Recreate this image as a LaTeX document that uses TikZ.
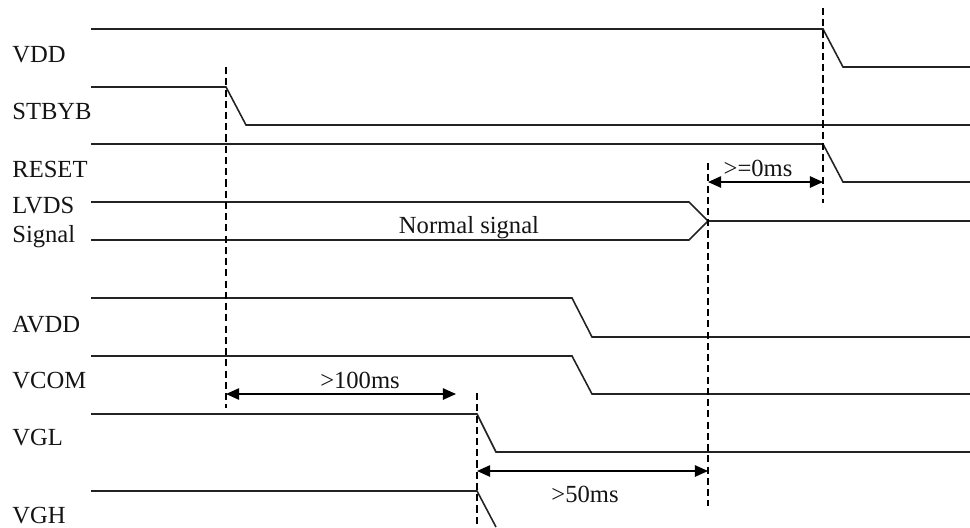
\documentclass[tikz,border=0pt]{standalone}
\usepackage{fontspec}
\setmainfont{Liberation Serif}
\usepackage{tikz}
\usetikzlibrary{arrows.meta}
\definecolor{SigLine}{RGB}{35,35,35}
\definecolor{TxtCol} {RGB}{20,20,20}
\tikzset{
  sig_line/.style={draw=SigLine,line width=0.9pt},
  tm_dash/.style={draw=black,line width=1.6pt,dash pattern=on 4pt off 2.4pt},
  arr/.style={<->,>={Triangle[length=7.5pt,width=6.5pt]},line width=0.9pt},
  nd_name/.style={anchor=base west,inner sep=0pt,text=TxtCol,font=\fontsize{14}{16}\selectfont},
  lbl/.style={anchor=base,inner sep=0pt,text=TxtCol,font=\fontsize{14}{16}\selectfont},
}

\begin{document}
\begin{tikzpicture}[x=0.2mm,y=-0.2mm]

\useasboundingbox (0,0) rectangle (970,527);
\def\Lx{91}\def\Rx{970}

% signal names
\node[nd_name] (nVDD)   at (12,62)  {VDD};
\node[nd_name] (nSTBYB) at (12,119) {STBYB};
\node[nd_name] (nRESET) at (12,177) {RESET};
\node[nd_name] (nLVDS)  at (12,213) {LVDS};
\node[nd_name] (nSig)   at (12,242) {Signal};
\node[nd_name] (nAVDD)  at (12,332) {AVDD};
\node[nd_name] (nVCOM)  at (12,388) {VCOM};
\node[nd_name] (nVGL)   at (12,445) {VGL};
\node[nd_name] (nVGH)   at (12,523) {VGH};

% waveforms
\draw[sig_line](\Lx,29)--(823,29)--(843,67)--(\Rx,67);
\draw[sig_line](\Lx,87)--(226,87)--(246,125)--(\Rx,125);
\draw[sig_line](\Lx,144)--(823,144)--(843,182)--(\Rx,182);
\draw[sig_line](\Lx,202)--(689,202)--(708,221);
\draw[sig_line](\Lx,240)--(689,240)--(708,221)--(\Rx,221);
\node[lbl] (nNorm) at (469,233) {Normal signal};
\draw[sig_line](\Lx,298)--(572,298)--(592,337)--(\Rx,337);
\draw[sig_line](\Lx,356)--(572,356)--(592,394)--(\Rx,394);
\draw[sig_line](\Lx,414)--(477,414)--(496,452)--(\Rx,452);
\draw[sig_line](\Lx,491)--(477,491)--(496,527);

% timing marks
\coordinate (tS1) at (226,67);  \coordinate (tS2) at (226,408);
\coordinate (tV1) at (823,8);   \coordinate (tV2) at (823,203);
\coordinate (tL1) at (708,163); \coordinate (tL2) at (708,506);
\coordinate (tG1) at (477,393); \coordinate (tG2) at (477,527);
\draw[tm_dash](tS1)--(tS2);
\draw[tm_dash](tV1)--(tV2);
\draw[tm_dash](tL1)--(tL2);
\draw[tm_dash](tG1)--(tG2);

% intervals
\coordinate (d0a)   at (708,182); \coordinate (d0b)   at (823,182);
\coordinate (d100a) at (226,394); \coordinate (d100b) at (456,394);
\coordinate (d50a)  at (477,471); \coordinate (d50b)  at (708,471);
\draw[arr](d0a)--(d0b);
\draw[arr](d100a)--(d100b);
\draw[arr](d50a)--(d50b);
\node[lbl] (t0)   at (758,176) {>=0ms};
\node[lbl] (t100) at (360,388) {>100ms};
\node[lbl] (t50)  at (585,502) {>50ms};

\end{tikzpicture}
\end{document}
